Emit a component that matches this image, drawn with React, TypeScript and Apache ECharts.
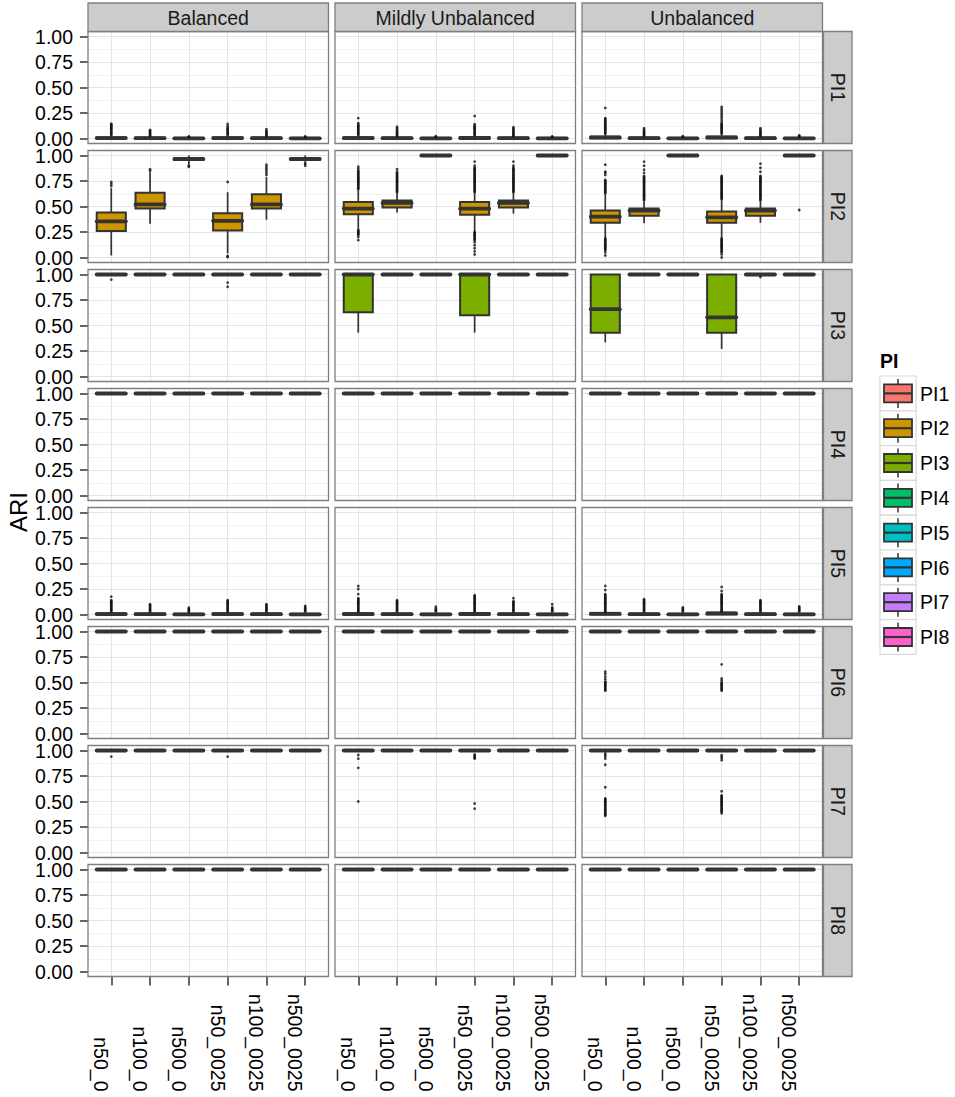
import React, { useEffect, useRef } from "react";
import * as echarts from "echarts";

// ---------- data ----------
const facetColumns = ["Balanced", "Mildly Unbalanced", "Unbalanced"];
const categories = ["n50_0", "n100_0", "n500_0", "n50_0025", "n100_0025", "n500_0025"];
const piNames = ["PI1", "PI2", "PI3", "PI4", "PI5", "PI6", "PI7", "PI8"];
const piColors = ["#F8766D", "#CD9600", "#7CAE00", "#00BE67", "#00BFC4", "#00A9FF", "#C77CFF", "#FF61CC"];
const yTickValues = [0, 0.25, 0.5, 0.75, 1];
const categoryPositions = [1, 2, 3, 4, 5, 6];

// box stats: [lower whisker, Q1, median, Q3, upper whisker], [column][category]
const pi1Boxes = [
  [[0, 0, 0.004, 0.012, 0.03], [0, 0, 0.003, 0.009, 0.022], [0, 0, 0.002, 0.006, 0.014], [0, 0, 0.004, 0.012, 0.03], [0, 0, 0.003, 0.009, 0.022], [0, 0, 0.002, 0.006, 0.014]],
  [[0, 0, 0.004, 0.013, 0.032], [0, 0, 0.003, 0.009, 0.022], [0, 0, 0.002, 0.006, 0.014], [0, 0, 0.005, 0.014, 0.034], [0, 0, 0.003, 0.009, 0.022], [0, 0, 0.002, 0.006, 0.014]],
  [[0, 0.002, 0.008, 0.02, 0.048], [0, 0, 0.003, 0.009, 0.022], [0, 0, 0.002, 0.006, 0.014], [0, 0.002, 0.008, 0.02, 0.048], [0, 0, 0.003, 0.009, 0.022], [0, 0, 0.002, 0.006, 0.014]],
];
const pi2Boxes = [
  [[0.02, 0.26, 0.355, 0.44, 0.68], [0.33, 0.48, 0.52, 0.635, 0.835], [0.91, 0.955, 0.965, 0.975, 1], [0.04, 0.265, 0.36, 0.435, 0.64], [0.37, 0.48, 0.52, 0.62, 0.79], [0.91, 0.955, 0.965, 0.975, 1]],
  [[0.28, 0.425, 0.48, 0.545, 0.66], [0.44, 0.49, 0.535, 0.56, 0.63], [0.99, 0.995, 1, 1, 1], [0.26, 0.42, 0.48, 0.545, 0.63], [0.43, 0.49, 0.535, 0.56, 0.63], [0.99, 0.995, 1, 1, 1]],
  [[0.2, 0.34, 0.4, 0.46, 0.62], [0.335, 0.41, 0.46, 0.48, 0.55], [0.99, 0.995, 1, 1, 1], [0.2, 0.34, 0.394, 0.45, 0.56], [0.34, 0.41, 0.46, 0.48, 0.55], [0.99, 0.995, 1, 1, 1]],
];
const pi3Boxes = [
  [[0.99, 0.995, 1, 1, 1], [0.99, 0.995, 1, 1, 1], [0.99, 0.995, 1, 1, 1], [0.99, 0.995, 1, 1, 1], [0.99, 0.995, 1, 1, 1], [0.99, 0.995, 1, 1, 1]],
  [[0.43, 0.63, 1, 1, 1], [0.99, 0.995, 1, 1, 1], [0.99, 0.995, 1, 1, 1], [0.43, 0.6, 1, 1, 1], [0.99, 0.995, 1, 1, 1], [0.99, 0.995, 1, 1, 1]],
  [[0.335, 0.43, 0.66, 1, 1], [0.99, 0.995, 1, 1, 1], [0.99, 0.995, 1, 1, 1], [0.27, 0.43, 0.58, 1, 1], [0.99, 0.995, 1, 1, 1], [0.99, 0.995, 1, 1, 1]],
];
const pi4Boxes = [
  [[0.99, 0.995, 1, 1, 1], [0.99, 0.995, 1, 1, 1], [0.99, 0.995, 1, 1, 1], [0.99, 0.995, 1, 1, 1], [0.99, 0.995, 1, 1, 1], [0.99, 0.995, 1, 1, 1]],
  [[0.99, 0.995, 1, 1, 1], [0.99, 0.995, 1, 1, 1], [0.99, 0.995, 1, 1, 1], [0.99, 0.995, 1, 1, 1], [0.99, 0.995, 1, 1, 1], [0.99, 0.995, 1, 1, 1]],
  [[0.99, 0.995, 1, 1, 1], [0.99, 0.995, 1, 1, 1], [0.99, 0.995, 1, 1, 1], [0.99, 0.995, 1, 1, 1], [0.99, 0.995, 1, 1, 1], [0.99, 0.995, 1, 1, 1]],
];
const pi5Boxes = [
  [[0, 0, 0.004, 0.012, 0.028], [0, 0, 0.003, 0.009, 0.022], [0, 0, 0.002, 0.007, 0.018], [0, 0, 0.004, 0.012, 0.028], [0, 0, 0.003, 0.009, 0.022], [0, 0, 0.002, 0.007, 0.018]],
  [[0, 0, 0.004, 0.013, 0.03], [0, 0, 0.003, 0.009, 0.022], [0, 0, 0.002, 0.007, 0.018], [0, 0, 0.005, 0.014, 0.032], [0, 0, 0.003, 0.009, 0.022], [0, 0, 0.002, 0.007, 0.018]],
  [[0, 0.001, 0.006, 0.016, 0.038], [0, 0, 0.003, 0.009, 0.022], [0, 0, 0.002, 0.007, 0.018], [0, 0.002, 0.008, 0.02, 0.045], [0, 0, 0.003, 0.009, 0.022], [0, 0, 0.002, 0.007, 0.018]],
];
const pi6Boxes = [
  [[0.99, 0.995, 1, 1, 1], [0.99, 0.995, 1, 1, 1], [0.99, 0.995, 1, 1, 1], [0.99, 0.995, 1, 1, 1], [0.99, 0.995, 1, 1, 1], [0.99, 0.995, 1, 1, 1]],
  [[0.99, 0.995, 1, 1, 1], [0.99, 0.995, 1, 1, 1], [0.99, 0.995, 1, 1, 1], [0.99, 0.995, 1, 1, 1], [0.99, 0.995, 1, 1, 1], [0.99, 0.995, 1, 1, 1]],
  [[0.985, 0.995, 1, 1, 1], [0.99, 0.995, 1, 1, 1], [0.99, 0.995, 1, 1, 1], [0.985, 0.995, 1, 1, 1], [0.99, 0.995, 1, 1, 1], [0.99, 0.995, 1, 1, 1]],
];
const pi7Boxes = [
  [[0.99, 0.995, 1, 1, 1], [0.99, 0.995, 1, 1, 1], [0.99, 0.995, 1, 1, 1], [0.99, 0.995, 1, 1, 1], [0.99, 0.995, 1, 1, 1], [0.99, 0.995, 1, 1, 1]],
  [[0.985, 0.995, 1, 1, 1], [0.99, 0.995, 1, 1, 1], [0.99, 0.995, 1, 1, 1], [0.985, 0.995, 1, 1, 1], [0.99, 0.995, 1, 1, 1], [0.99, 0.995, 1, 1, 1]],
  [[0.985, 0.995, 1, 1, 1], [0.99, 0.995, 1, 1, 1], [0.99, 0.995, 1, 1, 1], [0.985, 0.995, 1, 1, 1], [0.99, 0.995, 1, 1, 1], [0.99, 0.995, 1, 1, 1]],
];
const pi8Boxes = [
  [[0.99, 0.995, 1, 1, 1], [0.99, 0.995, 1, 1, 1], [0.99, 0.995, 1, 1, 1], [0.99, 0.995, 1, 1, 1], [0.99, 0.995, 1, 1, 1], [0.99, 0.995, 1, 1, 1]],
  [[0.99, 0.995, 1, 1, 1], [0.99, 0.995, 1, 1, 1], [0.99, 0.995, 1, 1, 1], [0.99, 0.995, 1, 1, 1], [0.99, 0.995, 1, 1, 1], [0.99, 0.995, 1, 1, 1]],
  [[0.99, 0.995, 1, 1, 1], [0.99, 0.995, 1, 1, 1], [0.99, 0.995, 1, 1, 1], [0.99, 0.995, 1, 1, 1], [0.99, 0.995, 1, 1, 1], [0.99, 0.995, 1, 1, 1]],
];

// outliers: [column][category] = values
const pi1Outliers = [
  [[0.035, 0.045, 0.055, 0.065, 0.075, 0.085, 0.095, 0.105, 0.115, 0.125, 0.135, 0.145], [0.025, 0.035, 0.045, 0.055, 0.065, 0.075, 0.083], [0.016, 0.02], [0.035, 0.045, 0.055, 0.065, 0.075, 0.085, 0.095, 0.105, 0.12, 0.142], [0.025, 0.035, 0.045, 0.055, 0.065, 0.075, 0.09], [0.016, 0.02]],
  [[0.035, 0.045, 0.055, 0.065, 0.075, 0.085, 0.095, 0.105, 0.115, 0.125, 0.135, 0.15, 0.2], [0.025, 0.035, 0.045, 0.055, 0.065, 0.075, 0.085, 0.1, 0.115], [0.016, 0.022], [0.035, 0.045, 0.055, 0.065, 0.075, 0.085, 0.095, 0.105, 0.115, 0.125, 0.14, 0.22], [0.025, 0.035, 0.045, 0.055, 0.065, 0.075, 0.085, 0.095, 0.11], [0.016, 0.02]],
  [[0.05, 0.06, 0.07, 0.08, 0.09, 0.1, 0.11, 0.12, 0.13, 0.14, 0.15, 0.16, 0.17, 0.18, 0.19, 0.2, 0.3], [0.025, 0.035, 0.045, 0.055, 0.065, 0.075, 0.085, 0.1], [0.016, 0.022], [0.05, 0.06, 0.07, 0.08, 0.09, 0.1, 0.11, 0.12, 0.13, 0.14, 0.15, 0.17, 0.19, 0.21, 0.23, 0.25, 0.27, 0.29, 0.31], [0.025, 0.035, 0.045, 0.055, 0.065, 0.075, 0.085, 0.1], [0.016, 0.025, 0.03]],
];
const pi2Outliers = [
  [[0.7, 0.72, 0.74], [0.85, 0.865], [0.89, 0.9], [0.74, 0.015, 0.005], [0.81, 0.83, 0.85, 0.87, 0.89, 0.91], [0.9, 0.92]],
  [
    [0.67, 0.68, 0.69, 0.7, 0.71, 0.72, 0.73, 0.74, 0.75, 0.76, 0.77, 0.78, 0.79, 0.8, 0.81, 0.82, 0.83, 0.84, 0.85, 0.87, 0.89, 0.27, 0.26, 0.25, 0.24, 0.23, 0.22, 0.2, 0.17],
    [0.64, 0.65, 0.66, 0.67, 0.68, 0.69, 0.7, 0.71, 0.72, 0.73, 0.74, 0.75, 0.76, 0.77, 0.78, 0.79, 0.8, 0.81, 0.82, 0.83, 0.84, 0.865],
    [],
    [0.64, 0.65, 0.66, 0.67, 0.68, 0.69, 0.7, 0.71, 0.72, 0.73, 0.74, 0.75, 0.76, 0.77, 0.78, 0.79, 0.8, 0.81, 0.82, 0.83, 0.84, 0.85, 0.86, 0.87, 0.88, 0.9, 0.94, 0.25, 0.24, 0.23, 0.22, 0.21, 0.2, 0.19, 0.18, 0.17, 0.15, 0.12, 0.09, 0.06, 0.03],
    [0.64, 0.65, 0.66, 0.67, 0.68, 0.69, 0.7, 0.71, 0.72, 0.73, 0.74, 0.75, 0.76, 0.77, 0.78, 0.79, 0.8, 0.81, 0.82, 0.83, 0.84, 0.85, 0.86, 0.87, 0.88, 0.9, 0.94],
    [],
  ],
  [
    [0.63, 0.64, 0.65, 0.66, 0.67, 0.68, 0.69, 0.7, 0.71, 0.72, 0.73, 0.74, 0.75, 0.76, 0.81, 0.83, 0.84, 0.91, 0.19, 0.18, 0.17, 0.16, 0.15, 0.14, 0.13, 0.12, 0.11, 0.1, 0.09, 0.08, 0.07, 0.05, 0.02],
    [0.56, 0.57, 0.58, 0.59, 0.6, 0.61, 0.62, 0.63, 0.64, 0.65, 0.66, 0.67, 0.68, 0.69, 0.7, 0.71, 0.72, 0.73, 0.74, 0.75, 0.76, 0.77, 0.78, 0.79, 0.8, 0.83, 0.86, 0.9, 0.94],
    [],
    [0.57, 0.58, 0.59, 0.6, 0.61, 0.62, 0.63, 0.64, 0.65, 0.66, 0.67, 0.68, 0.69, 0.7, 0.71, 0.72, 0.73, 0.74, 0.75, 0.76, 0.77, 0.78, 0.79, 0.8, 0.19, 0.18, 0.17, 0.16, 0.15, 0.14, 0.13, 0.12, 0.11, 0.1, 0.09, 0.08, 0.07, 0.06, 0.05, 0.03, 0.0],
    [0.56, 0.57, 0.58, 0.59, 0.6, 0.61, 0.62, 0.63, 0.64, 0.65, 0.66, 0.67, 0.68, 0.69, 0.7, 0.71, 0.72, 0.73, 0.74, 0.75, 0.76, 0.77, 0.78, 0.79, 0.8, 0.84, 0.88, 0.92],
    [0.466],
  ],
];
const pi3Outliers = [
  [[0.95], [], [], [0.92, 0.88], [], []],
  [[], [], [], [], [], []],
  [[], [], [], [], [0.975], []],
];
const pi4Outliers = [
  [[], [], [], [], [], []],
  [[], [], [], [], [], []],
  [[], [], [], [], [], []],
];
const pi5Outliers = [
  [[0.03, 0.04, 0.05, 0.06, 0.07, 0.08, 0.09, 0.1, 0.11, 0.12, 0.13, 0.14, 0.175], [0.03, 0.04, 0.05, 0.06, 0.07, 0.08, 0.09, 0.1], [0.025, 0.035, 0.045, 0.055, 0.066], [0.03, 0.04, 0.05, 0.06, 0.07, 0.08, 0.09, 0.1, 0.11, 0.12, 0.13, 0.14], [0.03, 0.04, 0.05, 0.06, 0.07, 0.08, 0.09, 0.1], [0.03, 0.04, 0.05, 0.06, 0.07, 0.083]],
  [[0.03, 0.04, 0.05, 0.06, 0.07, 0.08, 0.09, 0.1, 0.11, 0.12, 0.13, 0.14, 0.15, 0.16, 0.2, 0.25, 0.28], [0.03, 0.04, 0.05, 0.06, 0.07, 0.08, 0.09, 0.1, 0.11, 0.12, 0.13, 0.14], [0.03, 0.04, 0.05, 0.06, 0.076], [0.03, 0.04, 0.05, 0.06, 0.07, 0.08, 0.09, 0.1, 0.11, 0.12, 0.13, 0.14, 0.15, 0.16, 0.17, 0.18, 0.19], [0.03, 0.04, 0.05, 0.06, 0.07, 0.08, 0.09, 0.1, 0.11, 0.12, 0.13, 0.16], [0.03, 0.04, 0.05, 0.06, 0.07, 0.1]],
  [[0.03, 0.04, 0.05, 0.06, 0.07, 0.08, 0.09, 0.1, 0.11, 0.12, 0.13, 0.14, 0.15, 0.16, 0.17, 0.18, 0.19, 0.2, 0.24, 0.28], [0.03, 0.04, 0.05, 0.06, 0.07, 0.08, 0.09, 0.1, 0.11, 0.12, 0.13, 0.14, 0.15], [0.03, 0.04, 0.05, 0.06, 0.07], [0.03, 0.04, 0.05, 0.06, 0.07, 0.08, 0.09, 0.1, 0.11, 0.12, 0.13, 0.14, 0.15, 0.16, 0.17, 0.18, 0.19, 0.2, 0.23, 0.27], [0.03, 0.04, 0.05, 0.06, 0.07, 0.08, 0.09, 0.1, 0.11, 0.12, 0.13, 0.14], [0.03, 0.04, 0.05, 0.06, 0.07, 0.08]],
];
const pi6Outliers = [
  [[], [], [], [], [], []],
  [[], [], [], [], [], []],
  [[0.42, 0.43, 0.44, 0.45, 0.46, 0.47, 0.48, 0.49, 0.5, 0.508, 0.532, 0.557, 0.583, 0.606], [], [], [0.42, 0.43, 0.44, 0.45, 0.46, 0.47, 0.48, 0.49, 0.5, 0.52, 0.54, 0.678], [], []],
];
const pi7Outliers = [
  [[0.94], [], [], [0.94], [], []],
  [[0.956, 0.92, 0.83, 0.5], [], [], [0.96, 0.95, 0.94, 0.93, 0.92, 0.48, 0.43], [], []],
  [[0.97, 0.955, 0.94, 0.92, 0.86, 0.64, 0.53, 0.52, 0.51, 0.5, 0.49, 0.48, 0.47, 0.46, 0.45, 0.44, 0.43, 0.42, 0.41, 0.4, 0.39, 0.38, 0.37, 0.36], [], [], [0.955, 0.94, 0.925, 0.905, 0.6, 0.56, 0.55, 0.54, 0.53, 0.52, 0.51, 0.5, 0.49, 0.48, 0.47, 0.46, 0.45, 0.44, 0.43, 0.42, 0.41, 0.4, 0.385], [], []],
];
const pi8Outliers = [
  [[], [], [], [], [], []],
  [[], [], [], [], [], []],
  [[], [], [], [], [], []],
];

const boxesByPI = [pi1Boxes, pi2Boxes, pi3Boxes, pi4Boxes, pi5Boxes, pi6Boxes, pi7Boxes, pi8Boxes];
const outliersByPI = [pi1Outliers, pi2Outliers, pi3Outliers, pi4Outliers, pi5Outliers, pi6Outliers, pi7Outliers, pi8Outliers];

// ---------- layout ----------
const FONT = "'Liberation Sans', Arial, Helvetica, sans-serif";
const PANEL_LEFT0 = 88;
const PANEL_STEP_X = 247;
const PANEL_W = 240.5;
const PANEL_TOP0 = 31.5;
const PANEL_STEP_Y = 119;
const PANEL_H = 112;
const EXPAND = 5;
const STRIP_TOP = 3;
const STRIP_H = 28.5;
const TEXT_SIZE = 19.5;
const BORDER = "#7F7F7F";
const DARK = "#333333";

function buildOption() {
  const grids: any[] = [];
  const xAxes: any[] = [];
  const yAxes: any[] = [];
  const series: any[] = [];
  const graphics: any[] = [];

  for (let r = 0; r < piNames.length; r++) {
    for (let c = 0; c < facetColumns.length; c++) {
      const pl = PANEL_LEFT0 + c * PANEL_STEP_X;
      const pt = PANEL_TOP0 + r * PANEL_STEP_Y;
      const isBottom = r === piNames.length - 1;
      const isLeft = c === 0;

      // grid A: full panel (vertical grid lines + x axis)
      const gA = grids.length;
      grids.push({ left: pl, top: pt, width: PANEL_W, height: PANEL_H, containLabel: false });
      xAxes.push({
        gridIndex: gA,
        type: "value",
        min: 0.4,
        max: 6.6,
        axisLine: { show: false },
        splitLine: { show: true, lineStyle: { color: "#E5E5E5", width: 1 } },
        axisTick: { show: isBottom, length: 9, customValues: categoryPositions, lineStyle: { color: DARK, width: 1.5 } },
        axisLabel: {
          show: isBottom,
          customValues: categoryPositions,
          formatter: (v: number) => {
            const i = Math.round(v);
            return Math.abs(v - i) < 1e-6 && i >= 1 && i <= categories.length ? categories[i - 1] : "";
          },
          rotate: -90,
          align: "right",
          verticalAlign: "top",
          margin: 115,
          fontSize: TEXT_SIZE,
          fontFamily: FONT,
          color: "#000",
        },
      });
      yAxes.push({ gridIndex: gA, type: "value", min: 0, max: 1, show: false });

      // grid B: data region in y (horizontal grid lines + y axis + marks)
      const gB = grids.length;
      grids.push({ left: pl, top: pt + EXPAND, width: PANEL_W, height: PANEL_H - 2 * EXPAND, containLabel: false });
      xAxes.push({ gridIndex: gB, type: "value", min: 0.4, max: 6.6, show: false });
      yAxes.push({
        gridIndex: gB,
        type: "value",
        min: 0,
        max: 1,
        interval: 0.25,
        axisLine: { show: false },
        splitLine: { show: true, lineStyle: { color: "#E5E5E5", width: 1 } },
        minorTick: { show: false, splitNumber: 2 },
        minorSplitLine: { show: true, lineStyle: { color: "#F3F3F3", width: 1 } },
        axisTick: { show: isLeft, length: 8, lineStyle: { color: DARK, width: 1.5 } },
        axisLabel: {
          show: isLeft,
          margin: 15,
          formatter: (v: number) => (yTickValues.indexOf(v) >= 0 ? v.toFixed(2) : ""),
          fontSize: TEXT_SIZE,
          lineHeight: 15,
          fontFamily: FONT,
          color: "#000",
        },
      });

      const color = piColors[r];
      series.push({
        type: "custom",
        xAxisIndex: gB,
        yAxisIndex: gB,
        clip: false,
        z: 3,
        data: boxesByPI[r][c].map((b, i) => [categoryPositions[i], b[0], b[1], b[2], b[3], b[4]]),
        renderItem: (params: any, api: any) => {
          const x = api.value(0);
          const lo = api.coord([x, api.value(1)]);
          const q1 = api.coord([x, api.value(2)]);
          const md = api.coord([x, api.value(3)]);
          const q3 = api.coord([x, api.value(4)]);
          const hi = api.coord([x, api.value(5)]);
          const hw = api.size([0.75, 0])[0] / 2;
          const cx = lo[0];
          return {
            type: "group",
            children: [
              { type: "line", shape: { x1: cx, y1: hi[1], x2: cx, y2: lo[1] }, style: { stroke: DARK, lineWidth: 1.7 } },
              {
                type: "rect",
                shape: { x: cx - hw, y: q3[1], width: 2 * hw, height: Math.max(q1[1] - q3[1], 0.01) },
                style: { fill: color, stroke: DARK, lineWidth: 2 },
              },
              {
                type: "line",
                shape: { x1: cx - hw, y1: md[1], x2: cx + hw, y2: md[1] },
                style: { stroke: DARK, lineWidth: 3.8, lineCap: "round" },
              },
            ],
          };
        },
      });
      const pts: number[][] = [];
      outliersByPI[r][c].forEach((vals, i) => vals.forEach((v) => pts.push([categoryPositions[i], v])));
      series.push({
        type: "scatter",
        xAxisIndex: gB,
        yAxisIndex: gB,
        clip: false,
        z: 4,
        symbol: "circle",
        symbolSize: 2.8,
        itemStyle: { color: "#111" },
        data: pts,
      });

      // panel border
      graphics.push({
        type: "rect",
        z: 100,
        shape: { x: pl, y: pt, width: PANEL_W, height: PANEL_H },
        style: { fill: "none", stroke: BORDER, lineWidth: 1.3 },
      });
    }
  }

  // top strips
  facetColumns.forEach((name, c) => {
    const pl = PANEL_LEFT0 + c * PANEL_STEP_X;
    graphics.push({
      type: "rect",
      z: 100,
      shape: { x: pl, y: STRIP_TOP, width: PANEL_W, height: STRIP_H },
      style: { fill: "#CCCCCC", stroke: BORDER, lineWidth: 1.3 },
    });
    graphics.push({
      type: "text",
      z: 101,
      x: pl + PANEL_W / 2,
      y: STRIP_TOP + STRIP_H / 2 + 1,
      style: { text: name, fontSize: TEXT_SIZE, fontFamily: FONT, fill: "#1a1a1a", align: "center", verticalAlign: "middle" },
    });
  });

  // right strips
  const stripX = PANEL_LEFT0 + 2 * PANEL_STEP_X + PANEL_W + 1;
  piNames.forEach((name, r) => {
    const pt = PANEL_TOP0 + r * PANEL_STEP_Y;
    graphics.push({
      type: "rect",
      z: 100,
      shape: { x: stripX, y: pt, width: 28.5, height: PANEL_H },
      style: { fill: "#CCCCCC", stroke: BORDER, lineWidth: 1.3 },
    });
    graphics.push({
      type: "text",
      z: 101,
      x: stripX + 14.25,
      y: pt + PANEL_H / 2,
      rotation: -Math.PI / 2,
      style: { text: name, fontSize: TEXT_SIZE, fontFamily: FONT, fill: "#1a1a1a", align: "center", verticalAlign: "middle" },
    });
  });

  // y axis title
  graphics.push({
    type: "text",
    z: 101,
    x: 18,
    y: 512,
    rotation: Math.PI / 2,
    style: { text: "ARI", fontSize: 24, fontFamily: FONT, fill: "#000", align: "center", verticalAlign: "middle" },
  });

  // legend
  graphics.push({
    type: "text",
    z: 101,
    x: 880,
    y: 361,
    style: { text: "PI", fontSize: TEXT_SIZE, fontWeight: "bold", fontFamily: FONT, fill: "#000", align: "left", verticalAlign: "middle" },
  });
  piNames.forEach((name, i) => {
    const kt = 376 + 34.8 * i;
    graphics.push({ type: "rect", z: 100, shape: { x: 880, y: kt, width: 36, height: 34.8 }, style: { fill: "#fff", stroke: "#D9D9D9", lineWidth: 1.2 } });
    graphics.push({ type: "line", z: 101, shape: { x1: 898, y1: kt + 3, x2: 898, y2: kt + 32 }, style: { stroke: DARK, lineWidth: 1.5 } });
    graphics.push({ type: "rect", z: 102, shape: { x: 884, y: kt + 8.4, width: 28, height: 18 }, style: { fill: piColors[i], stroke: DARK, lineWidth: 1.8 } });
    graphics.push({ type: "line", z: 103, shape: { x1: 884, y1: kt + 17.4, x2: 912, y2: kt + 17.4 }, style: { stroke: DARK, lineWidth: 2.2 } });
    graphics.push({
      type: "text",
      z: 101,
      x: 920,
      y: kt + 17.6,
      style: { text: name, fontSize: TEXT_SIZE, fontFamily: FONT, fill: "#000", align: "left", verticalAlign: "middle" },
    });
  });

  return {
    animation: false,
    backgroundColor: "#ffffff",
    grid: grids,
    xAxis: xAxes,
    yAxis: yAxes,
    series,
    graphic: { elements: graphics },
  };
}

export default function App() {
  const ref = useRef<HTMLDivElement>(null);
  useEffect(() => {
    if (!ref.current) return;
    const chart = echarts.init(ref.current, undefined, { renderer: "svg" });
    chart.setOption(buildOption() as any);
    return () => chart.dispose();
  }, []);
  return <div ref={ref} style={{ position: "fixed", left: 0, top: 0, width: 955, height: 1097 }} />;
}
